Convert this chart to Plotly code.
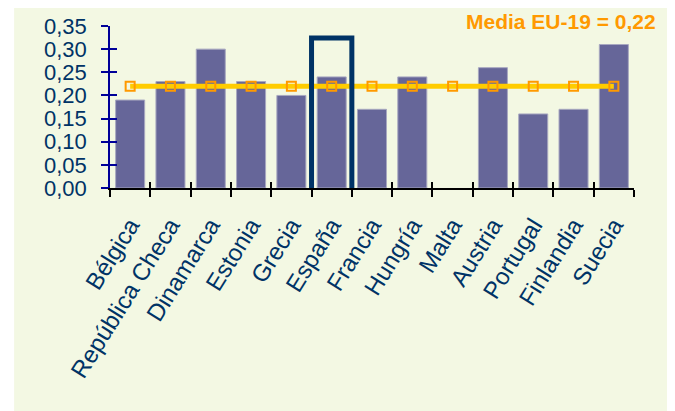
import plotly.graph_objects as go

paises = ["Bélgica", "República Checa", "Dinamarca", "Estonia", "Grecia", "España",
          "Francia", "Hungría", "Malta", "Austria", "Portugal", "Finlandia", "Suecia"]
valores = [0.19, 0.23, 0.30, 0.23, 0.20, 0.24, 0.17, 0.24, None, 0.26, 0.16, 0.17, 0.31]
media_eu = [0.22] * len(paises)
yticks = [0.00, 0.05, 0.10, 0.15, 0.20, 0.25, 0.30, 0.35]
ytick_text = ["0,00", "0,05", "0,10", "0,15", "0,20", "0,25", "0,30", "0,35"]

bg = "#F3F8E3"
navy_text = "#003366"
font_family = "Liberation Sans, Arial, sans-serif"

fig = go.Figure()
fig.add_trace(go.Bar(
    x=paises, y=valores,
    marker=dict(color="#666699", line=dict(color="#A8A8C0", width=1)),
    xaxis="x", yaxis="y", showlegend=False,
))
fig.add_trace(go.Scatter(
    x=paises, y=media_eu, mode="lines+markers",
    line=dict(color="#FFCC00", width=5),
    marker=dict(symbol="square-open", size=9, color="#FF9900", line=dict(width=2, color="#FF9900")),
    xaxis="x2", yaxis="y2", showlegend=False,
))

common_y = dict(range=[0, 0.35], tickvals=yticks, showgrid=False, zeroline=False, automargin=False)
common_x = dict(categoryorder="array", categoryarray=paises, range=[-0.5, len(paises) - 0.5],
                showgrid=False, zeroline=False, automargin=False)

# page body has an 8px margin, so the figure is sized to fit the remaining window
fig.update_layout(
    width=667, height=403,
    margin=dict(l=102, r=41, t=18, b=223),
    paper_bgcolor="white", plot_bgcolor=bg,
    bargap=0.28,
    font=dict(family=font_family, color=navy_text),
    xaxis=dict(**common_x, showline=True, linecolor="black", linewidth=1.5,
               ticks="outside", ticklen=7, tickwidth=1.5, tickcolor="black",
               tickson="boundaries", tickangle=-58, ticklabelstandoff=12,
               tickfont=dict(size=24, color=navy_text, family=font_family)),
    yaxis=dict(**common_y, showline=True, linecolor="#000099", linewidth=1.5,
               ticks="outside", ticklen=7, tickwidth=1.5, tickcolor="#000099",
               ticktext=ytick_text, ticklabelstandoff=10,
               tickfont=dict(size=22, color=navy_text, family=font_family)),
    xaxis2=dict(**common_x, overlaying="x", anchor="y2", side="bottom", showline=False,
                ticks="inside", ticklen=6, tickwidth=1.5, tickcolor="black",
                tickson="boundaries", showticklabels=False),
    yaxis2=dict(**common_y, overlaying="y", anchor="x2", side="left", showline=False,
                ticks="inside", ticklen=7, tickwidth=1.5, tickcolor="#000099",
                showticklabels=False),
    shapes=[
        dict(type="rect", xref="paper", yref="paper", x0=-0.183, x1=1.0725,
             y0=-1.38, y1=1.12, fillcolor=bg, line=dict(width=0), layer="below"),
        dict(type="rect", xref="x", yref="y", x0=4.5, x1=5.5, y0=-0.0346, y1=0.324,
             line=dict(color="#003366", width=5), fillcolor="rgba(0,0,0,0)", layer="above"),
    ],
    annotations=[
        dict(text="<b>Media EU-19 = 0,22</b>", xref="paper", yref="paper",
             x=1.0458, y=1.0265, xanchor="right", yanchor="middle", showarrow=False,
             font=dict(size=21, color="#FF9900", family=font_family)),
    ],
)

fig.write_html("out.html")
